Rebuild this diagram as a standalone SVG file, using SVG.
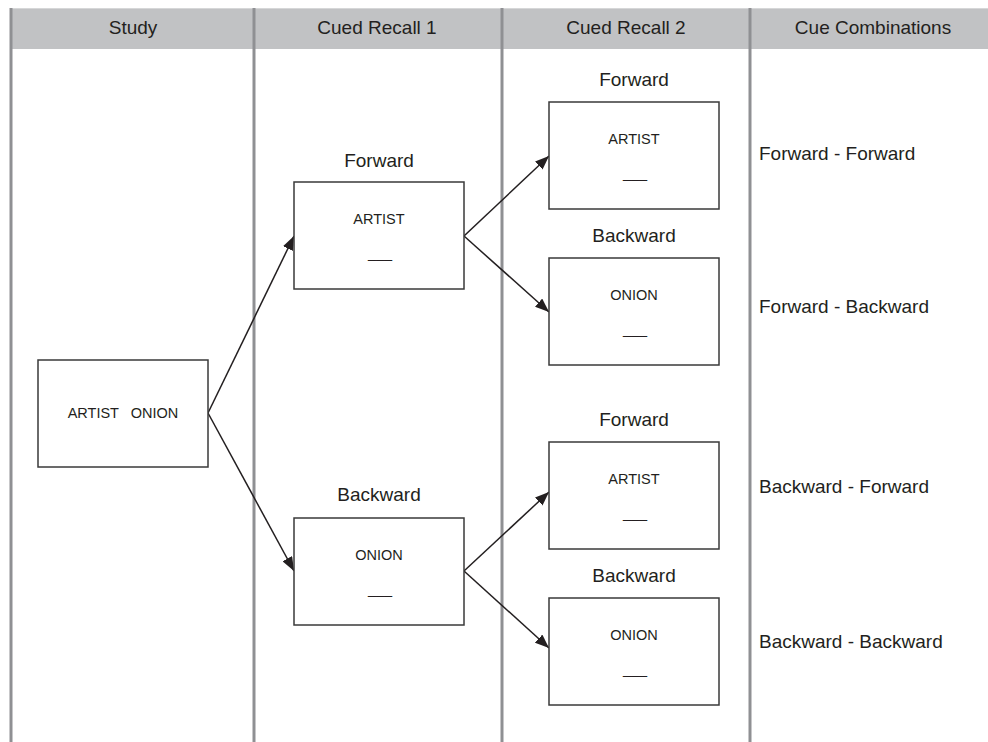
<svg xmlns="http://www.w3.org/2000/svg" width="988" height="742" viewBox="0 0 988 742">
<style>
.hdr{fill:#c1c2c4;}
.vl{stroke:#8f9093;stroke-width:3;fill:none;}
.box{fill:#fff;stroke:#3a3a3a;stroke-width:1.5;}
text{font-family:"Liberation Sans",Arial,sans-serif;fill:#231f20;}
.h{font-size:19px;text-anchor:middle;}
.lbl{font-size:19px;text-anchor:middle;}
.t{font-size:14.5px;text-anchor:middle;}
.c{font-size:19px;}
.con{stroke:#231f20;stroke-width:1.5;fill:none;marker-end:url(#ah);}
</style>
<defs>
<marker id="ah" viewBox="0 0 14 11" refX="14" refY="5.5" markerWidth="14" markerHeight="11" markerUnits="userSpaceOnUse" orient="auto">
<path d="M0,0 L14,5.5 L0,11 Z" fill="#231f20"/>
</marker>
</defs>
<rect width="988" height="742" fill="#fff"/>
<g id="header">
<rect class="hdr" x="11" y="8" width="977" height="41"/>
<line x1="11" y1="8.5" x2="988" y2="8.5" stroke="#d6d7d8" stroke-width="1"/>
<text class="h" x="133" y="34">Study</text>
<text class="h" x="377" y="34">Cued Recall 1</text>
<text class="h" x="626" y="34">Cued Recall 2</text>
<text class="h" x="873" y="34">Cue Combinations</text>
</g>
<g id="dividers">
<line class="vl" x1="11" y1="8" x2="11" y2="742"/>
<line class="vl" x1="254" y1="8" x2="254" y2="742"/>
<line class="vl" x1="502" y1="8" x2="502" y2="742"/>
<line class="vl" x1="750" y1="8" x2="750" y2="742"/>
</g>
<g id="connectors">
<line class="con" x1="208" y1="413" x2="294" y2="236"/>
<line class="con" x1="208" y1="413" x2="294" y2="571"/>
<line class="con" x1="464" y1="236" x2="549" y2="156"/>
<line class="con" x1="464" y1="236" x2="549" y2="312"/>
<line class="con" x1="464" y1="571" x2="549" y2="492"/>
<line class="con" x1="464" y1="571" x2="549" y2="648"/>
</g>
<g id="study">
<rect class="box" x="38" y="360" width="170" height="107"/>
<text class="t" x="123" y="418" xml:space="preserve">ARTIST   ONION</text>
</g>
<g id="cr1-forward">
<text class="lbl" x="379" y="167">Forward</text>
<rect class="box" x="294" y="182" width="170" height="107"/>
<text class="t" x="379" y="224">ARTIST</text>
<text class="t" x="380" y="258">___</text>
</g>
<g id="cr1-backward">
<text class="lbl" x="379" y="501">Backward</text>
<rect class="box" x="294" y="518" width="170" height="107"/>
<text class="t" x="379" y="560">ONION</text>
<text class="t" x="380" y="594">___</text>
</g>
<g id="cr2-ff">
<text class="lbl" x="634" y="86">Forward</text>
<rect class="box" x="549" y="102" width="170" height="107"/>
<text class="t" x="634" y="144">ARTIST</text>
<text class="t" x="635" y="178">___</text>
</g>
<g id="cr2-fb">
<text class="lbl" x="634" y="242">Backward</text>
<rect class="box" x="549" y="258" width="170" height="107"/>
<text class="t" x="634" y="300">ONION</text>
<text class="t" x="635" y="334">___</text>
</g>
<g id="cr2-bf">
<text class="lbl" x="634" y="426">Forward</text>
<rect class="box" x="549" y="442" width="170" height="107"/>
<text class="t" x="634" y="484">ARTIST</text>
<text class="t" x="635" y="518">___</text>
</g>
<g id="cr2-bb">
<text class="lbl" x="634" y="582">Backward</text>
<rect class="box" x="549" y="598" width="170" height="107"/>
<text class="t" x="634" y="640">ONION</text>
<text class="t" x="635" y="674">___</text>
</g>
<g id="combinations">
<text class="c" x="759" y="160">Forward - Forward</text>
<text class="c" x="759" y="313">Forward - Backward</text>
<text class="c" x="759" y="493">Backward - Forward</text>
<text class="c" x="759" y="648">Backward - Backward</text>
</g>
</svg>
